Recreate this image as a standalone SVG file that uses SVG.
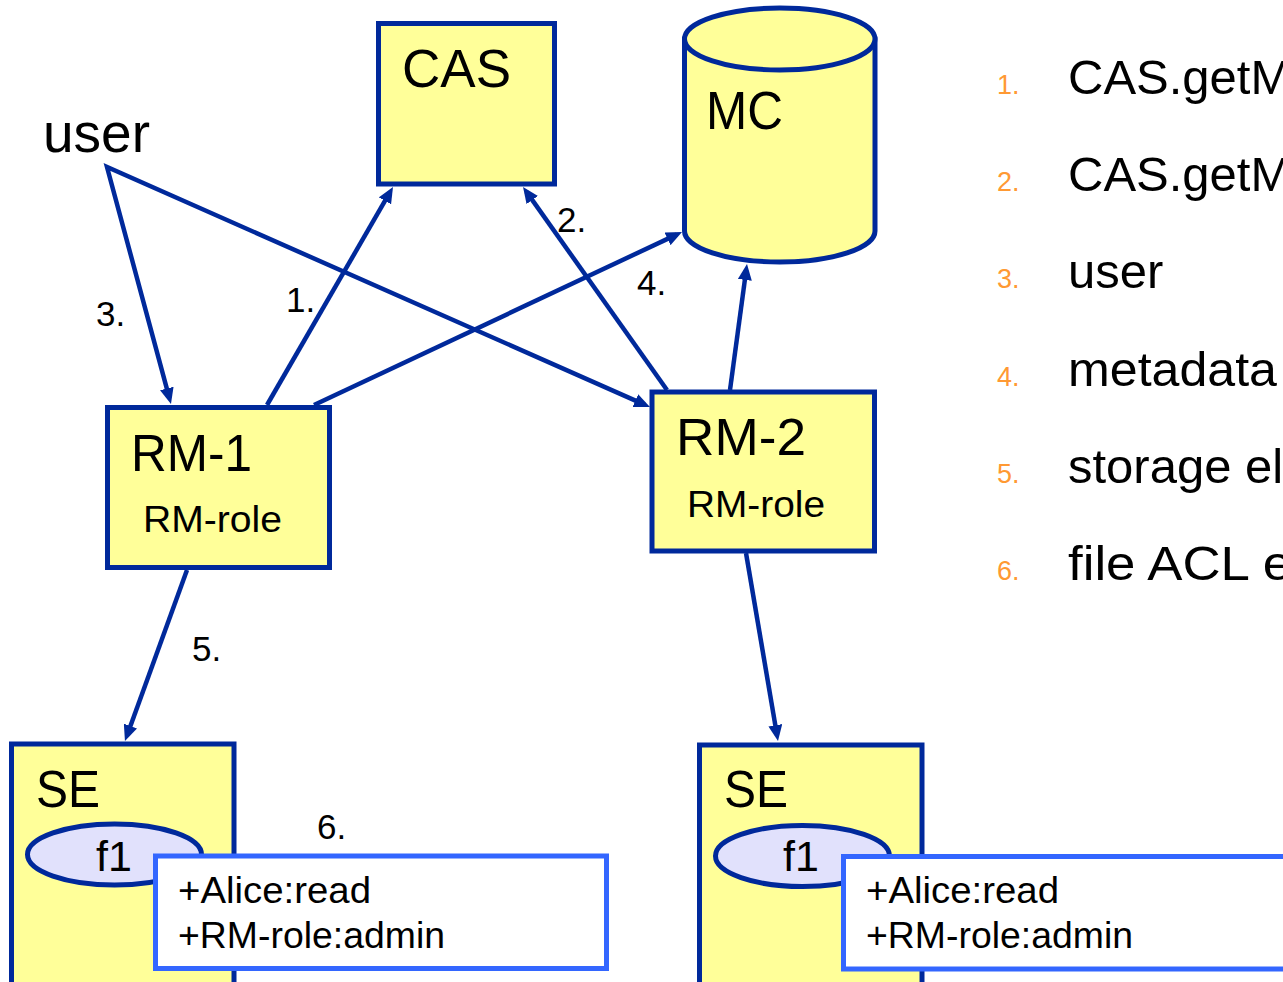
<svg xmlns="http://www.w3.org/2000/svg" width="1283" height="982" viewBox="0 0 1283 982">
  <defs>
    <style>
      .box { fill: #FFFF99; stroke: #00299B; stroke-width: 5; }
      .file { fill: #E1E1FC; stroke: #00299B; stroke-width: 5; }
      .acl { fill: #FFFFFF; stroke: #3366FF; stroke-width: 5; }
      .edge { fill: none; stroke: #00299B; stroke-width: 4.5; stroke-linejoin: miter; }
      .arrow { marker-end: url(#head); }
      text { font-family: "Liberation Sans", Arial, sans-serif; fill: #000000; }
      .big { font-size: 53px; }
      .role { font-size: 36px; }
      .acltext { font-size: 36px; }
      .num { font-size: 35px; }
      .legnum { font-size: 27px; fill: #FF9933; }
      .legtext { font-size: 49px; }
    </style>
    <marker id="head" markerUnits="userSpaceOnUse" viewBox="0 0 16 14" markerWidth="16" markerHeight="14" refX="10" refY="7" orient="auto-start-reverse">
      <path d="M0,0 L16,7 L0,14 Z" fill="#00299B"/>
    </marker>
  </defs>

  <rect width="1283" height="982" fill="#FFFFFF"/>

  <!-- actor -->
  <g id="user">
    <text x="43" y="152" style="font-size:55px">user</text>
  </g>

  <!-- authority service -->
  <g id="cas">
    <rect class="box" x="378.5" y="23.5" width="176" height="160.5"/>
    <text class="big" x="402" y="87">CAS</text>
  </g>

  <!-- metadata catalogue cylinder -->
  <g id="mc">
    <path class="box" d="M684.5,39 L684.5,231 A95.25,31 0 0 0 875,231 L875,39 Z"/>
    <ellipse class="box" cx="779.75" cy="39" rx="95.25" ry="31"/>
    <text class="big" x="706" y="129" textLength="77" lengthAdjust="spacingAndGlyphs">MC</text>
  </g>

  <!-- resource managers -->
  <g id="rm1">
    <rect class="box" x="107.5" y="407.5" width="222" height="160"/>
    <text class="big" x="131" y="471" style="font-size:52px" textLength="121" lengthAdjust="spacingAndGlyphs">RM-1</text>
    <text class="role" x="143" y="532" textLength="139" lengthAdjust="spacingAndGlyphs">RM-role</text>
  </g>

  <g id="rm2">
    <rect class="box" x="652" y="392" width="222.5" height="159"/>
    <text class="big" x="676" y="455" style="font-size:52px" textLength="130" lengthAdjust="spacingAndGlyphs">RM-2</text>
    <text class="role" x="687" y="516.5" textLength="138" lengthAdjust="spacingAndGlyphs">RM-role</text>
  </g>

  <!-- storage elements -->
  <g id="se1">
    <rect class="box" x="11.5" y="744" width="222.5" height="260"/>
    <text class="big" x="36" y="807" style="font-size:52px" textLength="64" lengthAdjust="spacingAndGlyphs">SE</text>
    <ellipse class="file" cx="114.5" cy="854.5" rx="87" ry="30.5"/>
    <text x="96" y="871" style="font-size:43px">f1</text>
    <rect class="acl" x="155.5" y="856" width="451" height="112.5"/>
    <text class="acltext" x="178" y="903" textLength="193" lengthAdjust="spacingAndGlyphs">+Alice:read</text>
    <text class="acltext" x="178" y="948" textLength="267" lengthAdjust="spacingAndGlyphs">+RM-role:admin</text>
  </g>

  <g id="se2">
    <rect class="box" x="699.5" y="745" width="222.5" height="260"/>
    <text class="big" x="724" y="807" style="font-size:52px" textLength="64" lengthAdjust="spacingAndGlyphs">SE</text>
    <ellipse class="file" cx="802.5" cy="856" rx="87" ry="30.5"/>
    <text x="783" y="871" style="font-size:43px">f1</text>
    <rect class="acl" x="843.5" y="856.5" width="460" height="112.5"/>
    <text class="acltext" x="866" y="903" textLength="193" lengthAdjust="spacingAndGlyphs">+Alice:read</text>
    <text class="acltext" x="866" y="948" textLength="267" lengthAdjust="spacingAndGlyphs">+RM-role:admin</text>
  </g>

  <!-- connectors -->
  <g id="connectors">
    <line class="edge arrow" x1="267" y1="405" x2="390" y2="192.2"/>
    <line class="edge arrow" x1="667" y1="390" x2="526.5" y2="191.9"/>
    <path class="edge" d="M169.4,398.2 L107,167 L644.5,404.6" marker-start="url(#head)" marker-end="url(#head)"/>
    <line class="edge arrow" x1="314" y1="405" x2="676.6" y2="234.6"/>
    <line class="edge arrow" x1="730" y1="390" x2="746.2" y2="270"/>
    <line class="edge arrow" x1="187" y1="570" x2="127" y2="735.4"/>
    <line class="edge arrow" x1="746" y1="553" x2="777" y2="735.1"/>
    <text class="num" x="286" y="312">1.</text>
    <text class="num" x="557" y="232">2.</text>
    <text class="num" x="96" y="326">3.</text>
    <text class="num" x="637" y="295">4.</text>
    <text class="num" x="192" y="661">5.</text>
    <text class="num" x="317" y="839">6.</text>
  </g>

  <!-- step list -->
  <g id="legend">
    <text class="legnum" x="997" y="94">1.</text>
    <text class="legtext" x="1068" y="94">CAS.getM</text>
    <text class="legnum" x="997" y="191">2.</text>
    <text class="legtext" x="1068" y="191">CAS.getM</text>
    <text class="legnum" x="997" y="288">3.</text>
    <text class="legtext" x="1068" y="288">user</text>
    <text class="legnum" x="997" y="386">4.</text>
    <text class="legtext" x="1068" y="386" textLength="209" lengthAdjust="spacingAndGlyphs">metadata</text>
    <text class="legnum" x="997" y="483">5.</text>
    <text class="legtext" x="1068" y="483">storage el</text>
    <text class="legnum" x="997" y="580">6.</text>
    <text class="legtext" x="1068" y="580" textLength="224" lengthAdjust="spacingAndGlyphs">file ACL e</text>
  </g>
</svg>
